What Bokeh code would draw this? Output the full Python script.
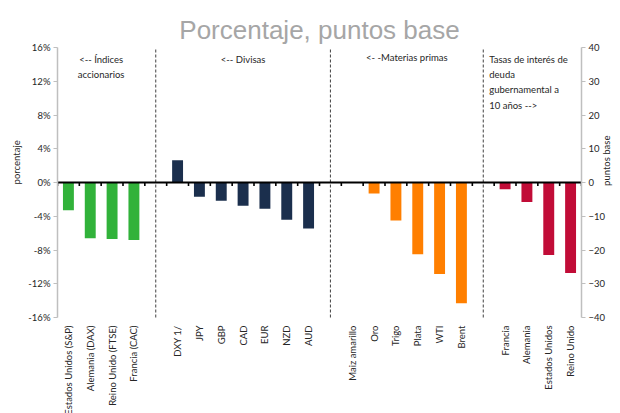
import math
from bokeh.plotting import figure
from bokeh.models import (Range1d, LinearAxis, FixedTicker, PrintfTickFormatter,
                          Label, ColumnDataSource)
from bokeh.core.properties import value
from bokeh.embed import file_html
from bokeh.resources import INLINE

# Stock indices (%)
indices_cat = ["Estados Unidos (S&P)", "Alemania (DAX)", "Reino Unido (FTSE)", "Francia (CAC)"]
indices_val = [-3.3, -6.6, -6.7, -6.8]

# Currencies (%)
divisas_cat = ["DXY 1/", "JPY", "GBP", "CAD", "EUR", "NZD", "AUD"]
divisas_val = [2.65, -1.7, -2.15, -2.75, -3.1, -4.4, -5.45]

# Commodities (%)
materias_cat = ["Maiz amarillo", "Oro", "Trigo", "Plata", "WTI", "Brent"]
materias_val = [0.0, -1.3, -4.5, -8.5, -10.85, -14.3]

# 10-year government bond yields (basis points, right axis)
tasas_cat = ["Francia", "Alemania", "Estados Unidos", "Reino Unido"]
tasas_val = [-2.0, -5.8, -21.5, -26.8]

pct_ticks = [-16, -12, -8, -4, 0, 4, 8, 12, 16]
pb_ticks = [-40, -30, -20, -10, 0, 10, 20, 30, 40]

TEXT_FONT = "Lato"
TEXT_COLOR = "#262626"
AXIS_GRAY = "#bfbfbf"

# page geometry: the value axes cover AXIS_PX pixels; the frame continues
# below them down to the page edge so the rotated category names fit inside it
W, H = 620, 413
TOP, LEFT, RIGHT = 47, 57, 37
AXIS_PX = 270
below_px = H - TOP - AXIS_PX


def extended_range(ticks):
    lo, hi = ticks[0], ticks[-1]
    per_px = (hi - lo) / AXIS_PX
    return Range1d(lo - below_px * per_px, hi)


groups = [
    (indices_cat, indices_val, "#31b23a", "default"),
    (divisas_cat, divisas_val, "#1b2f4d", "default"),
    (materias_cat, materias_val, "#ff7f00", "default"),
    (tasas_cat, tasas_val, "#c10c37", "pb"),
]

n_slots = sum(len(g[0]) for g in groups) + len(groups) - 1

p = figure(width=W, height=H, output_backend="svg", toolbar_location=None,
           x_range=Range1d(0, n_slots), y_range=extended_range(pct_ticks),
           min_border_left=LEFT, min_border_right=RIGHT, min_border_top=TOP, min_border_bottom=0,
           title="Porcentaje, puntos base")
p.extra_y_ranges = {"pb": extended_range(pb_ticks)}
p.outline_line_color = None
p.grid.visible = False
p.xaxis.visible = False
p.background_fill_color = "white"
p.border_fill_color = "white"

p.title.align = "center"
p.title.text_font = "Liberation Sans"
p.title.text_font_size = "26px"
p.title.text_font_style = "normal"
p.title.text_color = "#a6a6a6"
p.title.offset = -10
p.title.standoff = 6

# left axis in percent
ya = p.yaxis[0]
ya.ticker = FixedTicker(ticks=pct_ticks)
ya.formatter = PrintfTickFormatter(format="%d%%")
ya.bounds = (pct_ticks[0], pct_ticks[-1])

# right axis in basis points
yr = LinearAxis(y_range_name="pb", ticker=FixedTicker(ticks=pb_ticks),
                bounds=(pb_ticks[0], pb_ticks[-1]))
p.add_layout(yr, "right")

for ax in (ya, yr):
    ax.axis_line_color = AXIS_GRAY
    ax.axis_line_width = 1.5
    ax.major_tick_line_color = AXIS_GRAY
    ax.major_tick_out = 4
    ax.major_tick_in = 0
    ax.minor_tick_line_color = None
    ax.major_label_text_font = TEXT_FONT
    ax.major_label_text_font_size = "9.5px"
    ax.major_label_text_color = TEXT_COLOR
    ax.major_label_standoff = 3

# axis titles: a bare outer axis per side carrying one upright label
for side, rng, at, txt, standoff in (("left", "default", 5, "porcentaje", 3),
                                     ("right", "pb", -1, "puntos base", -8)):
    t_ax = LinearAxis(y_range_name=rng, ticker=FixedTicker(ticks=[at]),
                      major_label_overrides={at: txt}, major_label_orientation=math.pi / 2,
                      axis_line_color=None, major_tick_line_color=None,
                      minor_tick_line_color=None, major_label_standoff=standoff,
                      major_label_text_font=TEXT_FONT, major_label_text_font_size="9.5px",
                      major_label_text_color=TEXT_COLOR)
    p.add_layout(t_ax, side)

# bars, one group after another with an empty slot between groups
label_x, label_text, gaps = [], [], []
start = 0
for cats, vals, color, rng in groups:
    xs = [start + i + 0.5 for i in range(len(cats))]
    src = ColumnDataSource(dict(x=xs, top=vals))
    p.vbar(x="x", top="top", bottom=0, width=0.5, source=src, fill_color=color,
           line_color=None, y_range_name=rng)
    label_x += xs
    label_text += cats
    start += len(cats)
    if start < n_slots:
        gaps.append(start + 0.5)
    start += 1

# dashed separators between groups, over the height of the value axes
p.segment(x0=gaps, x1=gaps, y0=[pct_ticks[0]] * len(gaps), y1=[pct_ticks[-1]] * len(gaps),
          line_color="#404040", line_width=1, line_dash="3 2")

# zero line with small ticks between categories
bounds = list(range(n_slots + 1))
p.segment(x0=[0], x1=[n_slots], y0=[0], y1=[0], line_color="black", line_width=1.8)
p.segment(x0=bounds, x1=bounds, y0=[0] * len(bounds), y1=[-0.4] * len(bounds),
          line_color="black", line_width=1.6)

# category names under the axes, rotated
p.text(x=label_x, y=[pct_ticks[0]] * len(label_x), text=label_text, angle=math.pi / 2,
       text_align="right", text_baseline="middle", y_offset=8,
       text_font=value(TEXT_FONT), text_font_size="9.5px", text_color=TEXT_COLOR)

# section notes
notes = [
    (2.0, "<-- Índices\naccionarios", "center", 0),
    (8.5, "<-- Divisas", "center", 0),
    (16.0, "<- -Materias primas", "center", 2),
    (19.5, "Tasas de interés de\ndeuda\ngubernamental a\n10 años -->", "left", 0),
]
for x, txt, align, dy in notes:
    p.add_layout(Label(x=x, y=pct_ticks[-1], text=txt, text_align=align, text_baseline="top",
                       x_offset=6 if align == "left" else 0, y_offset=-6 + dy,
                       text_font=TEXT_FONT, text_font_size="9.5px", text_color=TEXT_COLOR,
                       text_line_height=1.4))

open("out.html", "w").write(file_html(p, INLINE))
